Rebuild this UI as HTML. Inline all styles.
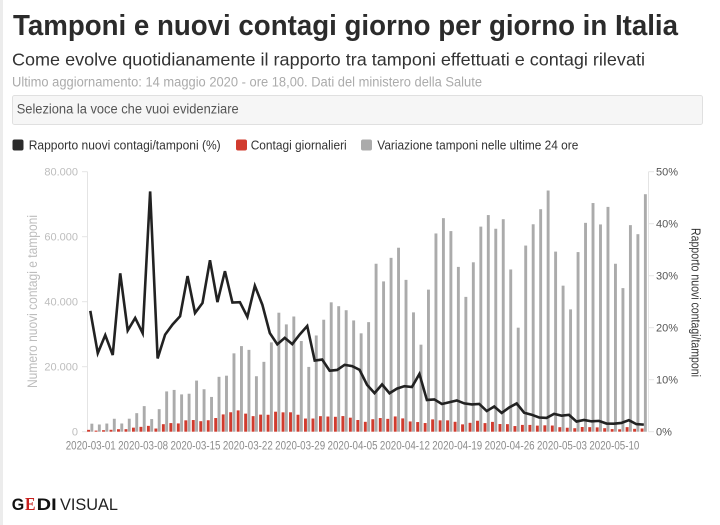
<!DOCTYPE html>
<html><head><meta charset="utf-8">
<style>
html,body{margin:0;padding:0;background:#fff;}
svg{display:block;}
text{font-family:"Liberation Sans",sans-serif;}
</style></head><body>
<svg width="720" height="525" viewBox="0 0 720 525" xmlns="http://www.w3.org/2000/svg">
<rect x="0" y="0" width="720" height="525" fill="#fff"/>
<rect x="0" y="0" width="3" height="525" fill="#ececec"/>

<text x="13" y="35" font-size="29" font-weight="bold" fill="#2b2b2b" textLength="665" lengthAdjust="spacingAndGlyphs">Tamponi e nuovi contagi giorno per giorno in Italia</text>
<text x="12" y="65.5" font-size="17.5" fill="#333" textLength="633" lengthAdjust="spacingAndGlyphs">Come evolve quotidianamente il rapporto tra tamponi effettuati e contagi rilevati</text>
<text x="12" y="86.5" font-size="13.5" fill="#ababab" textLength="470" lengthAdjust="spacingAndGlyphs">Ultimo aggiornamento: 14 maggio 2020 - ore 18,00. Dati del ministero della Salute</text>

<rect x="12.5" y="95.5" width="690" height="29" rx="2" fill="#f6f6f6" stroke="#e0e0e0" stroke-width="1"/>
<text x="16.7" y="113.5" font-size="13.5" fill="#555" textLength="222" lengthAdjust="spacingAndGlyphs">Seleziona la voce che vuoi evidenziare</text>

<rect x="12.5" y="139.5" width="11" height="11" rx="2" fill="#2b2b2b"/>
<text x="28.7" y="149.5" font-size="13" fill="#333" textLength="192" lengthAdjust="spacingAndGlyphs">Rapporto nuovi contagi/tamponi (%)</text>
<rect x="236" y="139.5" width="11" height="11" rx="2" fill="#d13b2e"/>
<text x="250.7" y="149.5" font-size="13" fill="#333" textLength="96" lengthAdjust="spacingAndGlyphs">Contagi giornalieri</text>
<rect x="361" y="139.5" width="11" height="11" rx="2" fill="#ababab"/>
<text x="377.3" y="149.5" font-size="13" fill="#333" textLength="201" lengthAdjust="spacingAndGlyphs">Variazione tamponi nelle ultime 24 ore</text>

<!-- axes -->
<g stroke="#e4e4e4" stroke-width="1">
<line x1="87.5" y1="171.7" x2="87.5" y2="431.7"/>
<line x1="82" y1="171.7" x2="87.5" y2="171.7"/>
<line x1="82" y1="236.7" x2="87.5" y2="236.7"/>
<line x1="82" y1="301.7" x2="87.5" y2="301.7"/>
<line x1="82" y1="366.7" x2="87.5" y2="366.7"/>
<line x1="82" y1="431.7" x2="87.5" y2="431.7"/>
<line x1="648.5" y1="171.7" x2="648.5" y2="431.7"/>
<line x1="648.5" y1="171.7" x2="654" y2="171.7"/>
<line x1="648.5" y1="223.7" x2="654" y2="223.7"/>
<line x1="648.5" y1="275.7" x2="654" y2="275.7"/>
<line x1="648.5" y1="327.7" x2="654" y2="327.7"/>
<line x1="648.5" y1="379.7" x2="654" y2="379.7"/>
<line x1="648.5" y1="431.7" x2="654" y2="431.7"/>
</g>
<g font-size="11" fill="#bdbdbd" text-anchor="end">
<text x="78" y="175.5">80.000</text>
<text x="78" y="240.5">60.000</text>
<text x="78" y="305.5">40.000</text>
<text x="78" y="370.5">20.000</text>
<text x="78" y="435.5">0</text>
</g>
<g font-size="11" fill="#555" text-anchor="start">
<text x="656" y="175.5">50%</text>
<text x="656" y="227.5">40%</text>
<text x="656" y="279.5">30%</text>
<text x="656" y="331.5">20%</text>
<text x="656" y="383.5">10%</text>
<text x="656" y="435.5">0%</text>
</g>
<text transform="translate(37,301.5) rotate(-90)" text-anchor="middle" font-size="13.5" fill="#bdbdbd" textLength="173" lengthAdjust="spacingAndGlyphs">Numero nuovi contagi e tamponi</text>
<text transform="translate(691.5,302.5) rotate(90)" text-anchor="middle" font-size="13" fill="#333" textLength="149" lengthAdjust="spacingAndGlyphs">Rapporto nuovi contagi/tamponi</text>

<!-- grey bars: tamponi -->
<g transform="translate(87,431.7) scale(7.48,-0.00325)" fill="#ababab">
<rect x="0.455" width="0.388" height="2466"/>
<rect x="1.455" width="0.388" height="2218"/>
<rect x="2.455" width="0.388" height="2511"/>
<rect x="3.455" width="0.388" height="3981"/>
<rect x="4.455" width="0.388" height="2525"/>
<rect x="5.455" width="0.388" height="3997"/>
<rect x="6.455" width="0.388" height="5703"/>
<rect x="7.455" width="0.388" height="7875"/>
<rect x="8.455" width="0.388" height="3889"/>
<rect x="9.455" width="0.388" height="6935"/>
<rect x="10.455" width="0.388" height="12393"/>
<rect x="11.455" width="0.388" height="12857"/>
<rect x="12.455" width="0.388" height="11477"/>
<rect x="13.455" width="0.388" height="11682"/>
<rect x="14.455" width="0.388" height="15729"/>
<rect x="15.455" width="0.388" height="13063"/>
<rect x="16.455" width="0.388" height="10695"/>
<rect x="17.455" width="0.388" height="16884"/>
<rect x="18.455" width="0.388" height="17236"/>
<rect x="19.455" width="0.388" height="24109"/>
<rect x="20.455" width="0.388" height="26336"/>
<rect x="21.455" width="0.388" height="25180"/>
<rect x="22.455" width="0.388" height="17066"/>
<rect x="23.455" width="0.388" height="21496"/>
<rect x="24.455" width="0.388" height="27481"/>
<rect x="25.455" width="0.388" height="36615"/>
<rect x="26.455" width="0.388" height="33019"/>
<rect x="27.455" width="0.388" height="35447"/>
<rect x="28.455" width="0.388" height="27900"/>
<rect x="29.455" width="0.388" height="19933"/>
<rect x="30.455" width="0.388" height="29609"/>
<rect x="31.455" width="0.388" height="34455"/>
<rect x="32.455" width="0.388" height="39809"/>
<rect x="33.455" width="0.388" height="38617"/>
<rect x="34.455" width="0.388" height="37375"/>
<rect x="35.455" width="0.388" height="34237"/>
<rect x="36.455" width="0.388" height="30271"/>
<rect x="37.455" width="0.388" height="33713"/>
<rect x="38.455" width="0.388" height="51680"/>
<rect x="39.455" width="0.388" height="46244"/>
<rect x="40.455" width="0.388" height="53495"/>
<rect x="41.455" width="0.388" height="56609"/>
<rect x="42.455" width="0.388" height="46720"/>
<rect x="43.455" width="0.388" height="36717"/>
<rect x="44.455" width="0.388" height="26779"/>
<rect x="45.455" width="0.388" height="43715"/>
<rect x="46.455" width="0.388" height="60999"/>
<rect x="47.455" width="0.388" height="65705"/>
<rect x="48.455" width="0.388" height="61725"/>
<rect x="49.455" width="0.388" height="50708"/>
<rect x="50.455" width="0.388" height="41483"/>
<rect x="51.455" width="0.388" height="52126"/>
<rect x="52.455" width="0.388" height="63101"/>
<rect x="53.455" width="0.388" height="66658"/>
<rect x="54.455" width="0.388" height="62447"/>
<rect x="55.455" width="0.388" height="65387"/>
<rect x="56.455" width="0.388" height="49916"/>
<rect x="57.455" width="0.388" height="32003"/>
<rect x="58.455" width="0.388" height="57272"/>
<rect x="59.455" width="0.388" height="63827"/>
<rect x="60.455" width="0.388" height="68456"/>
<rect x="61.455" width="0.388" height="74208"/>
<rect x="62.455" width="0.388" height="55412"/>
<rect x="63.455" width="0.388" height="44935"/>
<rect x="64.455" width="0.388" height="37631"/>
<rect x="65.455" width="0.388" height="55263"/>
<rect x="66.455" width="0.388" height="64263"/>
<rect x="67.455" width="0.388" height="70359"/>
<rect x="68.455" width="0.388" height="63775"/>
<rect x="69.455" width="0.388" height="69171"/>
<rect x="70.455" width="0.388" height="51678"/>
<rect x="71.455" width="0.388" height="44183"/>
<rect x="72.455" width="0.388" height="63560"/>
<rect x="73.455" width="0.388" height="60774"/>
<rect x="74.455" width="0.388" height="73075"/>
</g>

<!-- red bars: contagi -->
<g transform="translate(87,431.7) scale(7.48,-0.00325)" fill="#d13b2e">
<rect x="0.013" width="0.388" height="573"/>
<rect x="1.013" width="0.388" height="335"/>
<rect x="2.013" width="0.388" height="466"/>
<rect x="3.013" width="0.388" height="587"/>
<rect x="4.013" width="0.388" height="769"/>
<rect x="5.013" width="0.388" height="778"/>
<rect x="6.013" width="0.388" height="1247"/>
<rect x="7.013" width="0.388" height="1492"/>
<rect x="8.013" width="0.388" height="1797"/>
<rect x="9.013" width="0.388" height="977"/>
<rect x="10.013" width="0.388" height="2313"/>
<rect x="11.013" width="0.388" height="2651"/>
<rect x="12.013" width="0.388" height="2547"/>
<rect x="13.013" width="0.388" height="3497"/>
<rect x="14.013" width="0.388" height="3590"/>
<rect x="15.013" width="0.388" height="3233"/>
<rect x="16.013" width="0.388" height="3526"/>
<rect x="17.013" width="0.388" height="4207"/>
<rect x="18.013" width="0.388" height="5322"/>
<rect x="19.013" width="0.388" height="5986"/>
<rect x="20.013" width="0.388" height="6557"/>
<rect x="21.013" width="0.388" height="5560"/>
<rect x="22.013" width="0.388" height="4789"/>
<rect x="23.013" width="0.388" height="5249"/>
<rect x="24.013" width="0.388" height="5210"/>
<rect x="25.013" width="0.388" height="6153"/>
<rect x="26.013" width="0.388" height="5959"/>
<rect x="27.013" width="0.388" height="5974"/>
<rect x="28.013" width="0.388" height="5217"/>
<rect x="29.013" width="0.388" height="4050"/>
<rect x="30.013" width="0.388" height="4053"/>
<rect x="31.013" width="0.388" height="4782"/>
<rect x="32.013" width="0.388" height="4668"/>
<rect x="33.013" width="0.388" height="4585"/>
<rect x="34.013" width="0.388" height="4805"/>
<rect x="35.013" width="0.388" height="4316"/>
<rect x="36.013" width="0.388" height="3599"/>
<rect x="37.013" width="0.388" height="3039"/>
<rect x="38.013" width="0.388" height="3836"/>
<rect x="39.013" width="0.388" height="4204"/>
<rect x="40.013" width="0.388" height="3951"/>
<rect x="41.013" width="0.388" height="4694"/>
<rect x="42.013" width="0.388" height="4092"/>
<rect x="43.013" width="0.388" height="3153"/>
<rect x="44.013" width="0.388" height="2972"/>
<rect x="45.013" width="0.388" height="2667"/>
<rect x="46.013" width="0.388" height="3786"/>
<rect x="47.013" width="0.388" height="3493"/>
<rect x="48.013" width="0.388" height="3491"/>
<rect x="49.013" width="0.388" height="3047"/>
<rect x="50.013" width="0.388" height="2256"/>
<rect x="51.013" width="0.388" height="2729"/>
<rect x="52.013" width="0.388" height="3370"/>
<rect x="53.013" width="0.388" height="2646"/>
<rect x="54.013" width="0.388" height="3021"/>
<rect x="55.013" width="0.388" height="2357"/>
<rect x="56.013" width="0.388" height="2324"/>
<rect x="57.013" width="0.388" height="1739"/>
<rect x="58.013" width="0.388" height="2091"/>
<rect x="59.013" width="0.388" height="2086"/>
<rect x="60.013" width="0.388" height="1872"/>
<rect x="61.013" width="0.388" height="1965"/>
<rect x="62.013" width="0.388" height="1900"/>
<rect x="63.013" width="0.388" height="1389"/>
<rect x="64.013" width="0.388" height="1221"/>
<rect x="65.013" width="0.388" height="1075"/>
<rect x="66.013" width="0.388" height="1444"/>
<rect x="67.013" width="0.388" height="1401"/>
<rect x="68.013" width="0.388" height="1327"/>
<rect x="69.013" width="0.388" height="1083"/>
<rect x="70.013" width="0.388" height="802"/>
<rect x="71.013" width="0.388" height="744"/>
<rect x="72.013" width="0.388" height="1402"/>
<rect x="73.013" width="0.388" height="888"/>
<rect x="74.013" width="0.388" height="992"/>
</g>

<!-- ratio line -->
<polyline transform="translate(90.3,431.7) scale(7.48,-5.2)" fill="none" stroke="#222" stroke-width="2.6" vector-effect="non-scaling-stroke" stroke-linejoin="miter"
points="0,23.24 1,15.10 2,18.56 3,14.74 4,30.46 5,19.46 6,21.87 7,18.95 8,46.21 9,14.09 10,18.66 11,20.62 12,22.19 13,29.93 14,22.82 15,24.75 16,32.97 17,24.92 18,30.88 19,24.83 20,24.90 21,22.08 22,28.06 23,24.42 24,18.96 25,16.80 26,18.05 27,16.85 28,18.70 29,20.32 30,13.69 31,13.88 32,11.73 33,11.87 34,12.86 35,12.61 36,11.89 37,9.01 38,7.42 39,9.09 40,7.39 41,8.29 42,8.76 43,8.59 44,11.10 45,6.10 46,6.21 47,5.32 48,5.66 49,6.01 50,5.44 51,5.24 52,5.34 53,3.97 54,4.84 55,3.60 56,4.66 57,5.43 58,3.65 59,3.27 60,2.73 61,2.65 62,3.43 63,3.09 64,3.24 65,1.95 66,2.25 67,1.99 68,2.08 69,1.57 70,1.55 71,1.68 72,2.21 73,1.46 74,1.36"/>

<!-- x labels -->
<g font-size="11.6" fill="#8c8c8c" text-anchor="middle">
<text x="90.74" y="449.3" textLength="50" lengthAdjust="spacingAndGlyphs">2020-03-01</text>
<text x="143.10" y="449.3" textLength="50" lengthAdjust="spacingAndGlyphs">2020-03-08</text>
<text x="195.46" y="449.3" textLength="50" lengthAdjust="spacingAndGlyphs">2020-03-15</text>
<text x="247.82" y="449.3" textLength="50" lengthAdjust="spacingAndGlyphs">2020-03-22</text>
<text x="300.18" y="449.3" textLength="50" lengthAdjust="spacingAndGlyphs">2020-03-29</text>
<text x="352.54" y="449.3" textLength="50" lengthAdjust="spacingAndGlyphs">2020-04-05</text>
<text x="404.90" y="449.3" textLength="50" lengthAdjust="spacingAndGlyphs">2020-04-12</text>
<text x="457.26" y="449.3" textLength="50" lengthAdjust="spacingAndGlyphs">2020-04-19</text>
<text x="509.62" y="449.3" textLength="50" lengthAdjust="spacingAndGlyphs">2020-04-26</text>
<text x="561.98" y="449.3" textLength="50" lengthAdjust="spacingAndGlyphs">2020-05-03</text>
<text x="614.34" y="449.3" textLength="50" lengthAdjust="spacingAndGlyphs">2020-05-10</text>
</g>

<!-- logo -->
<text x="11.7" y="510" font-size="17" font-weight="bold" fill="#111" textLength="12.5" lengthAdjust="spacingAndGlyphs">G</text>
<text x="25" y="510" font-size="17.5" font-weight="bold" fill="#c8201e" textLength="10.5" lengthAdjust="spacingAndGlyphs" style="font-family:'Liberation Serif',serif">E</text>
<text x="36.7" y="510" font-size="17" font-weight="bold" fill="#111" textLength="20" lengthAdjust="spacingAndGlyphs">DI</text>
<text x="60" y="510" font-size="17" fill="#222" textLength="58" lengthAdjust="spacingAndGlyphs">VISUAL</text>
</svg>
</body></html>
